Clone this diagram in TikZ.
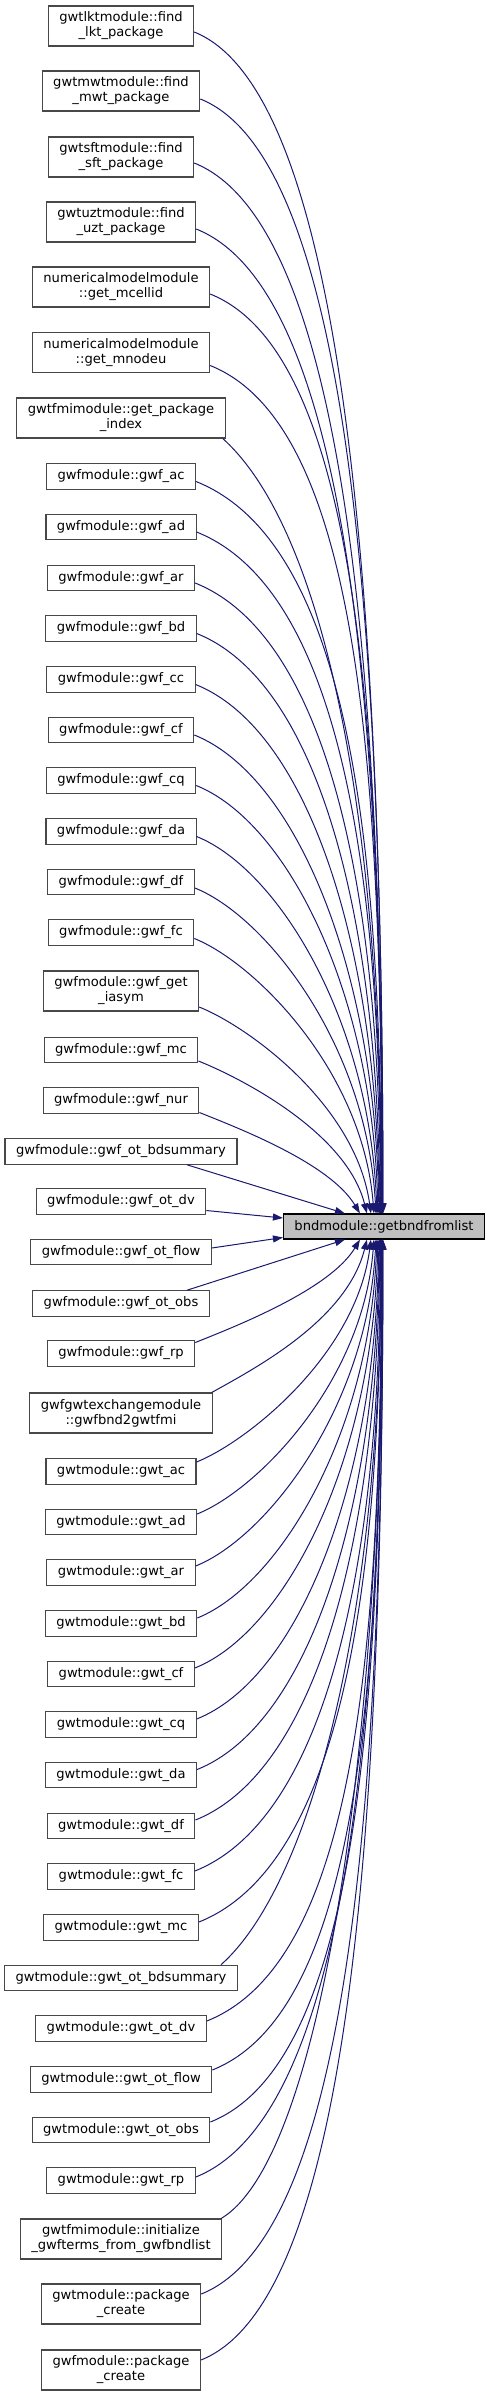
\documentclass[tikz,border=0pt]{standalone}
\usepackage{fontspec}
\setmainfont{DejaVu Sans}
\usepackage{tikz}
\usetikzlibrary{positioning,arrows,arrows.meta}
\definecolor{grey40}{HTML}{484848}
\definecolor{grey75}{HTML}{BFBFBF}
\definecolor{midblue}{HTML}{191970}
\tikzset{
  caller/.style={draw=grey40, fill=white, line width=1.1pt, inner xsep=11pt, inner ysep=0pt,
    minimum height=25.5pt, align=center, font=\fontsize{13.1}{15}\selectfont},
  callertwo/.style={caller, minimum height=40pt},
  bndbox/.style={caller, draw=black, fill=grey75, minimum width=198pt, minimum height=25pt},
  call/.style={draw=midblue, line width=1pt, -{Triangle[length=10pt,width=7pt]}}
}

\begin{document}
\begin{tikzpicture}[x=1pt,y=-1pt]
  \useasboundingbox (0,0) rectangle (489,2396);
  \node[bndbox] (bnd) at (384,1226.5) {bndmodule::getbndfromlist};
  % callers above
  \node[callertwo] (lkt) at (121,26) {gwtlktmodule::find\\\_lkt\_package};
  \node[callertwo] (mwt) at (121,91) {gwtmwtmodule::find\\\_mwt\_package};
  \node[callertwo] (sft) at (121,157) {gwtsftmodule::find\\\_sft\_package};
  \node[callertwo] (uzt) at (121,222) {gwtuztmodule::find\\\_uzt\_package};
  \node[callertwo] (mcellid) at (121,287) {numericalmodelmodule\\::get\_mcellid};
  \node[callertwo] (mnodeu) at (121,352.5) {numericalmodelmodule\\::get\_mnodeu};
  \node[callertwo] (pkgindex) at (121,418) {gwtfmimodule::get\_package\\\_index};
  \node[caller] (gwfac) at (121,476.5) {gwfmodule::gwf\_ac};
  \node[caller] (gwfad) at (121,527) {gwfmodule::gwf\_ad};
  \node[caller] (gwfar) at (121,578) {gwfmodule::gwf\_ar};
  \node[caller] (gwfbd) at (121,628.5) {gwfmodule::gwf\_bd};
  \node[caller] (gwfcc) at (121,679.5) {gwfmodule::gwf\_cc};
  \node[caller] (gwfcf) at (121,730) {gwfmodule::gwf\_cf};
  \node[caller] (gwfcq) at (121,780.5) {gwfmodule::gwf\_cq};
  \node[caller] (gwfda) at (121,831.5) {gwfmodule::gwf\_da};
  \node[caller] (gwfdf) at (121,882) {gwfmodule::gwf\_df};
  \node[caller] (gwffc) at (121,932.5) {gwfmodule::gwf\_fc};
  \node[callertwo] (gwfiasym) at (121,991) {gwfmodule::gwf\_get\\\_iasym};
  \node[caller] (gwfmc) at (121,1050) {gwfmodule::gwf\_mc};
  \node[caller] (gwfnur) at (121,1100.5) {gwfmodule::gwf\_nur};
  \node[caller] (gwfbdsum) at (121,1151.5) {gwfmodule::gwf\_ot\_bdsummary};
  % callers beside
  \node[caller] (gwfotdv) at (121,1201.5) {gwfmodule::gwf\_ot\_dv};
  \node[caller] (gwfotflow) at (121,1252) {gwfmodule::gwf\_ot\_flow};
  % callers below
  \node[caller] (gwfotobs) at (121,1303.5) {gwfmodule::gwf\_ot\_obs};
  \node[caller] (gwfrp) at (121,1353.5) {gwfmodule::gwf\_rp};
  \node[callertwo] (exg) at (121,1413) {gwfgwtexchangemodule\\::gwfbnd2gwtfmi};
  \node[caller] (gwtac) at (121,1471.5) {gwtmodule::gwt\_ac};
  \node[caller] (gwtad) at (121,1522) {gwtmodule::gwt\_ad};
  \node[caller] (gwtar) at (121,1572.5) {gwtmodule::gwt\_ar};
  \node[caller] (gwtbd) at (121,1623.5) {gwtmodule::gwt\_bd};
  \node[caller] (gwtcf) at (121,1674) {gwtmodule::gwt\_cf};
  \node[caller] (gwtcq) at (121,1724.5) {gwtmodule::gwt\_cq};
  \node[caller] (gwtda) at (121,1775) {gwtmodule::gwt\_da};
  \node[caller] (gwtdf) at (121,1826) {gwtmodule::gwt\_df};
  \node[caller] (gwtfc) at (121,1876.5) {gwtmodule::gwt\_fc};
  \node[caller] (gwtmc) at (121,1927.5) {gwtmodule::gwt\_mc};
  \node[caller] (gwtbdsum) at (121,1978) {gwtmodule::gwt\_ot\_bdsummary};
  \node[caller] (gwtotdv) at (121,2028.5) {gwtmodule::gwt\_ot\_dv};
  \node[caller] (gwtotflow) at (121,2079.5) {gwtmodule::gwt\_ot\_flow};
  \node[caller] (gwtotobs) at (121,2130) {gwtmodule::gwt\_ot\_obs};
  \node[caller] (gwtrp) at (121,2180.5) {gwtmodule::gwt\_rp};
  \node[callertwo] (initgwf) at (121,2239) {gwtfmimodule::initialize\\\_gwfterms\_from\_gwfbndlist};
  \node[callertwo] (gwtpkg) at (121,2304) {gwtmodule::package\\\_create};
  \node[callertwo] (gwfpkg) at (121,2370) {gwfmodule::package\\\_create};
  % edges into the top
  \draw[call] ([yshift=-6pt]lkt.east) .. controls +(150,60) and +(0,-615) .. ([xshift=100pt]bnd.north west);
  \draw[call] ([yshift=-8pt]mwt.east) .. controls +(150,60) and +(0,-580) .. ([xshift=100pt]bnd.north west);
  \draw[call] ([yshift=-6pt]sft.east) .. controls +(150,60) and +(0,-547) .. ([xshift=99.5pt]bnd.north west);
  \draw[call] ([yshift=-7pt]uzt.east) .. controls +(150,60) and +(0,-512) .. ([xshift=99.5pt]bnd.north west);
  \draw[call] ([yshift=-7pt]mcellid.east) .. controls +(150,60) and +(0,-478) .. ([xshift=99pt]bnd.north west);
  \draw[call] ([yshift=-13pt]mnodeu.east) .. controls +(150,60) and +(0,-441) .. ([xshift=99pt]bnd.north west);
  \draw[call] ([xshift=-3pt]pkgindex.south east) .. controls +(100,90) and +(0,-404) .. ([xshift=98.5pt]bnd.north west);
  \draw[call] ([yshift=-5pt]gwfac.east) .. controls +(150,60) and +(0,-381) .. ([xshift=98.5pt]bnd.north west);
  \draw[call] ([yshift=-5pt]gwfad.east) .. controls +(140,56) and +(0,-355) .. ([xshift=98pt]bnd.north west);
  \draw[call] ([yshift=-5pt]gwfar.east) .. controls +(130,52) and +(0,-329) .. ([xshift=97.5pt]bnd.north west);
  \draw[call] ([yshift=-5pt]gwfbd.east) .. controls +(120,48) and +(-2,-302) .. ([xshift=97pt]bnd.north west);
  \draw[call] ([yshift=-5pt]gwfcc.east) .. controls +(110,44) and +(-3,-276) .. ([xshift=96.5pt]bnd.north west);
  \draw[call] ([yshift=-5pt]gwfcf.east) .. controls +(100,40) and +(-4,-249) .. ([xshift=96pt]bnd.north west);
  \draw[call] ([yshift=-5pt]gwfcq.east) .. controls +(90,36) and +(-5,-223) .. ([xshift=95pt]bnd.north west);
  \draw[call] ([yshift=-5pt]gwfda.east) .. controls +(80,32) and +(-7,-196) .. ([xshift=94pt]bnd.north west);
  \draw[call] ([yshift=-6pt]gwfdf.east) .. controls +(70,28) and +(-9,-170) .. ([xshift=93pt]bnd.north west);
  \draw[call] ([yshift=-6pt]gwffc.east) .. controls +(60,24) and +(-11,-143) .. ([xshift=91pt]bnd.north west);
  \draw[call] ([yshift=-16pt]gwfiasym.east) .. controls +(50,20) and +(-15,-108) .. ([xshift=88pt]bnd.north west);
  \draw[call] ([yshift=-11pt]gwfmc.east) .. controls +(45,18) and +(-20,-80) .. ([xshift=84pt]bnd.north west);
  \draw[call] ([yshift=-12pt]gwfnur.east) .. controls +(40,16) and +(-30,-50) .. ([xshift=77pt]bnd.north west);
  \draw[call] ([xshift=66pt]gwfbdsum.south) -- ([xshift=62pt]bnd.north west);
  % edges into the side
  \draw[call] ([yshift=-9pt]gwfotdv.east) -- ([yshift=8.5pt]bnd.west);
  \draw[call] ([yshift=4pt]gwfotflow.east) -- ([yshift=-11pt]bnd.west);
  % edges into the bottom
  \draw[call] ([xshift=66pt]gwfotobs.north) -- ([xshift=62pt]bnd.south west);
  \draw[call] ([yshift=11pt]gwfrp.east) .. controls +(40,-16) and +(-30,50) .. ([xshift=77pt]bnd.south west);
  \draw[call] ([xshift=-1pt]exg.north east) .. controls +(45,-25) and +(-20,80) .. ([xshift=84pt]bnd.south west);
  \draw[call] ([yshift=9.5pt]gwtac.east) .. controls +(50,-20) and +(-15,116) .. ([xshift=88pt]bnd.south west);
  \draw[call] ([yshift=8pt]gwtad.east) .. controls +(60,-24) and +(-11,143) .. ([xshift=91pt]bnd.south west);
  \draw[call] ([yshift=6.5pt]gwtar.east) .. controls +(70,-28) and +(-9,170) .. ([xshift=93pt]bnd.south west);
  \draw[call] ([yshift=5.5pt]gwtbd.east) .. controls +(80,-32) and +(-7,197) .. ([xshift=94pt]bnd.south west);
  \draw[call] ([yshift=6pt]gwtcf.east) .. controls +(90,-36) and +(-5,223) .. ([xshift=95pt]bnd.south west);
  \draw[call] ([yshift=5.5pt]gwtcq.east) .. controls +(100,-40) and +(-4,250) .. ([xshift=96pt]bnd.south west);
  \draw[call] ([yshift=5.5pt]gwtda.east) .. controls +(110,-44) and +(-3,276) .. ([xshift=96.5pt]bnd.south west);
  \draw[call] ([yshift=6pt]gwtdf.east) .. controls +(120,-48) and +(-2,302) .. ([xshift=97pt]bnd.south west);
  \draw[call] ([yshift=5.5pt]gwtfc.east) .. controls +(130,-52) and +(0,329) .. ([xshift=97.5pt]bnd.south west);
  \draw[call] ([yshift=5.5pt]gwtmc.east) .. controls +(140,-56) and +(0,355) .. ([xshift=98pt]bnd.south west);
  \draw[call] ([xshift=100pt]gwtbdsum.north) .. controls +(90,-80) and +(0,378) .. ([xshift=98.5pt]bnd.south west);
  \draw[call] ([yshift=7.5pt]gwtotdv.east) .. controls +(150,-60) and +(0,407) .. ([xshift=98.5pt]bnd.south west);
  \draw[call] ([yshift=9.5pt]gwtotflow.east) .. controls +(150,-60) and +(0,432) .. ([xshift=99pt]bnd.south west);
  \draw[call] ([yshift=8pt]gwtotobs.east) .. controls +(150,-60) and +(0,459) .. ([xshift=99pt]bnd.south west);
  \draw[call] ([yshift=3.5pt]gwtrp.east) .. controls +(150,-60) and +(0,488) .. ([xshift=99.5pt]bnd.south west);
  \draw[call] ([xshift=-1pt]initgwf.north east) .. controls +(100,-60) and +(0,510) .. ([xshift=99.5pt]bnd.south west);
  \draw[call] ([yshift=10pt]gwtpkg.east) .. controls +(150,-60) and +(0,549) .. ([xshift=100pt]bnd.south west);
  \draw[call] ([yshift=10pt]gwfpkg.east) .. controls +(150,-60) and +(0,583) .. ([xshift=100pt]bnd.south west);
\end{tikzpicture}
\end{document}
